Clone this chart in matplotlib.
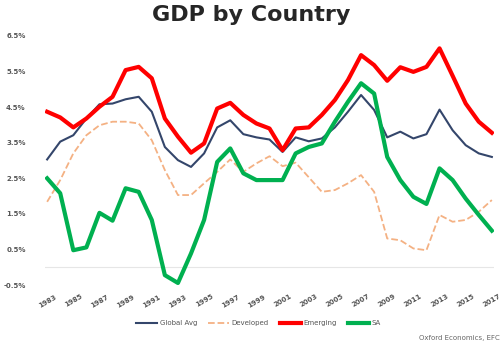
import matplotlib
matplotlib.use('Agg')
import matplotlib.pyplot as plt
import numpy as np

years = list(range(1983, 2018))

global_avg = [3.03, 3.53, 3.71, 4.18, 4.58, 4.60, 4.72, 4.79, 4.37, 3.38,
              3.01, 2.82, 3.20, 3.93, 4.13, 3.74, 3.65, 3.59, 3.24, 3.65,
              3.54, 3.62, 3.93, 4.37, 4.84, 4.42, 3.65, 3.81, 3.62, 3.74,
              4.43, 3.85, 3.43, 3.20, 3.10]
developed = [1.84, 2.45, 3.20, 3.71, 3.99, 4.09, 4.09, 4.04, 3.57, 2.73,
             2.03, 2.03, 2.36, 2.68, 3.03, 2.68, 2.92, 3.12, 2.84, 2.94,
             2.53, 2.12, 2.17, 2.36, 2.59, 2.12, 0.81, 0.76, 0.53, 0.48,
             1.47, 1.28, 1.33, 1.56, 1.89]
emerging = [4.37, 4.21, 3.93, 4.18, 4.51, 4.79, 5.54, 5.63, 5.31, 4.18,
            3.67, 3.22, 3.48, 4.46, 4.62, 4.28, 4.04, 3.90, 3.29, 3.90,
            3.93, 4.28, 4.70, 5.26, 5.96, 5.68, 5.24, 5.62, 5.49, 5.63,
            6.15, 5.38, 4.60, 4.09, 3.78]
sa = [2.50, 2.08, 0.48, 0.56, 1.53, 1.31, 2.22, 2.12, 1.33, -0.22,
      -0.44, 0.39, 1.33, 2.96, 3.34, 2.64, 2.45, 2.45, 2.45, 3.20,
      3.38, 3.48, 4.09, 4.65, 5.17, 4.88, 3.10, 2.45, 1.98, 1.78,
      2.78, 2.45, 1.93, 1.47, 1.03]

yticks = [-0.5, 0.5, 1.5, 2.5, 3.5, 4.5, 5.5, 6.5]
xticks = list(range(1983, 2018, 2))

fig = plt.figure(figsize=(5.02, 3.52), dpi=100)
ax = fig.add_axes([0.09, 0.19, 0.895, 0.708])

ax.plot(years, global_avg, color='#34466b', linewidth=1.5, label='Global Avg')
ax.plot(years, developed, color='#f4b183', linewidth=1.3, linestyle='--', label='Developed')
ax.plot(years, emerging, color='#ff0000', linewidth=3, label='Emerging')
ax.plot(years, sa, color='#00b050', linewidth=3, label='SA')

ax.axhline(0, color='#e6e6e6', linewidth=0.8, zorder=0)

ax.set_ylim(-0.5, 6.5)
ax.set_xlim(1982.85, 2017.2)
ax.set_yticks(yticks)
ax.set_yticklabels(['%.1f%%' % v for v in yticks], fontsize=5, color='#555555', fontweight='bold')
ax.set_xticks(xticks)
ax.set_xticklabels([str(y) for y in xticks], fontsize=5, color='#555555', rotation=30, fontweight='bold')
ax.tick_params(length=0, pad=14, axis='y')
ax.tick_params(length=0, pad=6, axis='x')
for s in ax.spines.values():
    s.set_visible(False)

fig.suptitle('GDP by Country', fontsize=16, fontweight='bold', color='#262626', y=0.985)

ax.legend(loc='upper center', bbox_to_anchor=(0.475, -0.115), ncol=4, frameon=False,
          fontsize=5, handlelength=3, handletextpad=0.4, columnspacing=1.6,
          labelcolor='#555555')

fig.text(0.995, 0.035, 'Oxford Economics, EFC', fontsize=5, color='#666666', ha='right')

fig.savefig('out.png', dpi=100)
